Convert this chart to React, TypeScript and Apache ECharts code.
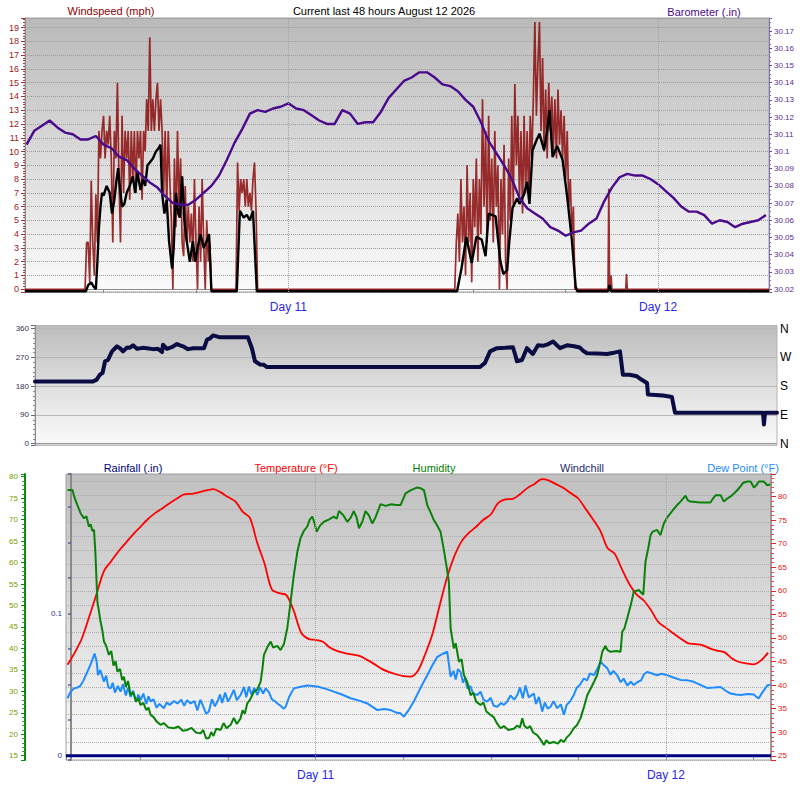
import React, { useEffect, useRef } from "react";
import * as echarts from "echarts";

// ---------- time axis (hours since Aug 10 06:00) ----------
const TIME_MIN = 0.9;
const TIME_MAX = 49.2;
const DAY_MARKS = [18, 42];
const DAY_NAMES = ["Day 11", "Day 12"];
const STEP_START = 1;
const STEP = 0.5;

// ---------- barometer (.in), every half hour from hour 1 ----------
const BAROMETER = [
  30.104, 30.112, 30.115, 30.118, 30.114, 30.111, 30.110, 30.107, 30.107, 30.109,
  30.104, 30.102, 30.097, 30.095, 30.090, 30.086, 30.082, 30.079, 30.074, 30.070,
  30.069, 30.069, 30.072, 30.076, 30.080, 30.086, 30.095, 30.105, 30.113, 30.122,
  30.124, 30.123, 30.125, 30.126, 30.128, 30.125, 30.124, 30.121, 30.118, 30.116,
  30.116, 30.124, 30.122, 30.116, 30.117, 30.117, 30.123, 30.131, 30.136, 30.141,
  30.143, 30.146, 30.146, 30.143, 30.139, 30.138, 30.135, 30.130, 30.126, 30.117,
  30.106, 30.099, 30.092, 30.084, 30.073, 30.067, 30.064, 30.061, 30.056, 30.054,
  30.051, 30.053, 30.054, 30.058, 30.061, 30.071, 30.079, 30.085, 30.087, 30.086,
  30.086, 30.084, 30.081, 30.077, 30.073, 30.068, 30.065, 30.065, 30.063, 30.058,
  30.060, 30.059, 30.056, 30.058, 30.059, 30.060, 30.063,
];

// ---------- temperature (°F), every half hour from hour 1 ----------
const TEMPERATURE = [
  44.3, 46.9, 50.0, 54.6, 59.4, 64.2, 66.3, 68.4, 70.2, 72.0,
  73.6, 75.2, 76.5, 77.5, 78.6, 79.6, 80.5, 80.6, 80.9, 81.3,
  81.6, 80.9, 79.9, 79.0, 76.8, 75.5, 70.2, 65.8, 60.3, 59.5,
  59.1, 55.8, 51.2, 49.8, 49.6, 49.2, 47.9, 47.2, 46.8, 46.5,
  46.2, 45.4, 44.5, 43.5, 42.8, 42.3, 41.9, 41.8, 43.0, 46.5,
  50.8, 56.9, 62.8, 67.3, 70.5, 72.3, 73.6, 75.1, 76.2, 78.6,
  79.4, 79.5, 80.5, 81.8, 82.7, 83.7, 83.4, 82.6, 81.8, 80.7,
  79.6, 77.4, 75.2, 72.8, 69.1, 67.8, 64.5, 61.4, 59.2, 57.9,
  55.8, 53.3, 52.2, 51.0, 49.9, 48.9, 48.7, 48.5, 47.8, 47.3,
  47.0, 45.7, 44.9, 44.6, 44.4, 45.2, 46.9,
];

// ---------- wind gust (mph) [hour, value] ----------
const WIND_GUST = [
  [0.9, 0], [4.8, 0], [4.9, 3.4], [5.0, 3.4], [5.1, 0.5], [5.2, 7.9], [5.3, 3.4], [5.4, 1.0], [5.5, 6.9], [5.6, 3.4],
  [5.7, 11.5], [5.8, 9.5], [5.9, 11.5], [6.0, 12.6], [6.1, 9.5], [6.2, 11.5], [6.3, 10.5], [6.4, 12.6], [6.5, 9.5], [6.6, 3.4],
  [6.7, 11.5], [6.8, 9.5], [6.9, 15.0], [7.0, 8.0], [7.1, 3.4], [7.2, 12.6], [7.3, 7.0], [7.4, 11.5], [7.5, 9.5], [7.6, 11.5],
  [7.7, 6.5], [7.8, 11.5], [7.9, 8.0], [8.0, 11.5], [8.1, 7.0], [8.2, 11.5], [8.3, 9.5], [8.4, 11.5], [8.5, 6.5], [8.6, 11.5],
  [8.7, 10.0], [8.8, 13.8], [8.9, 11.5], [9.0, 18.3], [9.1, 11.5], [9.2, 13.8], [9.3, 11.5], [9.4, 13.8], [9.5, 15.0], [9.6, 11.5],
  [9.7, 13.8], [9.8, 11.5], [9.9, 7.0], [10.0, 11.5], [10.1, 6.0], [10.2, 11.5], [10.3, 8.0], [10.4, 5.0], [10.5, 0.0], [10.6, 9.5],
  [10.7, 4.5], [10.8, 11.5], [10.9, 6.0], [11.0, 9.5], [11.1, 3.4], [11.2, 2.4], [11.3, 7.5], [11.4, 3.4], [11.5, 6.0], [11.6, 3.4],
  [11.7, 5.5], [11.8, 2.0], [11.9, 8.0], [12.0, 3.4], [12.1, 0.0], [12.2, 6.0], [12.3, 2.0], [12.4, 8.0], [12.5, 3.4], [12.6, 0.0],
  [12.7, 5.0], [12.8, 2.0], [12.9, 3.4], [13.0, 0],
  [14.6, 0], [14.7, 9.2], [14.8, 5.7], [14.9, 8.0], [15.0, 7.0], [15.1, 8.0], [15.2, 6.0], [15.3, 8.0], [15.4, 6.0], [15.5, 7.0],
  [15.6, 5.7], [15.7, 8.0], [15.8, 9.2], [15.9, 5.7], [16.0, 0],
  [28.8, 0], [28.9, 3.4], [29.0, 5.5], [29.1, 2.0], [29.2, 8.0], [29.3, 3.4], [29.4, 6.0], [29.5, 1.0], [29.6, 9.0], [29.7, 3.4],
  [29.8, 7.0], [29.9, 0.5], [30.0, 8.0], [30.1, 4.5], [30.2, 9.5], [30.3, 2.0], [30.4, 8.0], [30.5, 4.0], [30.6, 13.8], [30.7, 6.0],
  [30.8, 11.5], [30.9, 3.4], [31.0, 12.6], [31.1, 5.0], [31.2, 9.5], [31.3, 3.4], [31.4, 11.5], [31.5, 6.0], [31.6, 9.0], [31.7, 0.0],
  [31.8, 8.0], [31.9, 4.0], [32.0, 10.5], [32.1, 2.0], [32.2, 0.0], [32.3, 9.5], [32.4, 5.0], [32.5, 12.6], [32.6, 6.0], [32.7, 14.9],
  [32.8, 9.0], [32.9, 12.6], [33.0, 6.5], [33.1, 11.5], [33.2, 5.5], [33.3, 12.6], [33.4, 7.0], [33.5, 11.5], [33.6, 6.5], [33.7, 12.6],
  [33.8, 9.5], [33.9, 13.8], [34.0, 19.4], [34.1, 12.6], [34.2, 16.5], [34.3, 19.4], [34.4, 11.5], [34.5, 16.8], [34.6, 10.0], [34.7, 14.5],
  [34.8, 9.5], [34.9, 15.0], [35.0, 11.5], [35.1, 14.0], [35.2, 10.0], [35.3, 13.8], [35.4, 9.5], [35.5, 14.5], [35.6, 10.5], [35.7, 13.0],
  [35.8, 9.5], [35.9, 12.6], [36.0, 8.0], [36.1, 11.5], [36.2, 6.0], [36.3, 8.0], [36.4, 4.0], [36.5, 6.0], [36.6, 0],
  [38.75, 0], [38.8, 7.3], [38.85, 0], [38.95, 1.0], [39.0, 0], [39.9, 0], [39.95, 1.1], [40.0, 0], [49.2, 0],
];

// ---------- average wind (mph) [hour, value] ----------
const WIND_AVG = [
  [0.9, -0.15], [4.85, -0.15], [5.0, 0.3], [5.2, 0.5], [5.35, 0.2], [5.5, 0.0], [5.6, 2.0], [5.7, 4.5], [5.8, 6.0], [5.9, 7.0],
  [6.0, 6.8], [6.2, 7.5], [6.4, 7.0], [6.55, 5.5], [6.7, 6.5], [6.85, 8.0], [6.95, 8.8], [7.05, 7.5], [7.2, 6.0], [7.35, 6.2],
  [7.5, 7.0], [7.7, 7.5], [7.9, 8.2], [8.05, 7.0], [8.2, 8.5], [8.4, 7.2], [8.55, 8.0], [8.7, 7.5], [8.85, 9.0], [9.0, 9.2],
  [9.2, 9.5], [9.4, 10.0], [9.55, 10.2], [9.7, 10.5], [9.8, 7.0], [9.95, 5.5], [10.1, 6.5], [10.25, 3.5], [10.45, 1.5], [10.55, 3.0],
  [10.7, 7.0], [10.85, 5.5], [10.95, 5.2], [11.1, 8.2], [11.25, 5.0], [11.4, 3.5], [11.6, 2.0], [11.8, 3.5], [11.95, 2.0], [12.1, 3.0],
  [12.3, 4.0], [12.5, 3.0], [12.7, 3.5], [12.85, 4.0], [13.0, -0.15],
  [14.65, -0.15], [14.85, 5.7], [15.1, 5.2], [15.3, 5.4], [15.5, 5.0], [15.7, 5.7], [15.95, -0.15],
  [28.95, -0.15], [29.25, 1.6], [29.55, 3.8], [29.9, 1.9], [30.2, 3.8], [30.55, 3.6], [30.8, 2.4], [31.0, 5.5], [31.45, 5.3], [31.75, 2.1],
  [31.95, 1.1], [32.2, 1.4], [32.35, 3.6], [32.55, 5.9], [32.85, 6.6], [33.0, 6.2], [33.3, 6.9], [33.5, 7.8], [33.65, 6.2], [33.85, 10.1],
  [34.1, 10.8], [34.3, 11.3], [34.6, 10.1], [34.8, 11.5], [34.95, 13.0], [35.15, 9.6], [35.45, 10.4], [35.8, 9.4], [36.1, 6.7], [36.4, 3.6],
  [36.65, 0.2], [36.75, -0.15], [38.75, -0.15], [38.85, 0.3], [38.95, -0.15], [49.2, -0.15],
];

// ---------- wind direction (degrees) [hour, value] ----------
const WIND_DIR = [
  [0.9, 195], [4.68, 195], [4.9, 200], [5.13, 216], [5.3, 222], [5.46, 258], [5.65, 262], [5.91, 289], [6.24, 305], [6.45, 298],
  [6.63, 289], [6.89, 301], [7.05, 300], [7.28, 308], [7.54, 297], [7.9, 300], [8.19, 299], [8.58, 296], [8.9, 297], [9.17, 287],
  [9.23, 310], [9.49, 297], [9.8, 302], [10.14, 312], [10.35, 308], [10.53, 305], [10.86, 296], [11.2, 299], [11.9, 299], [12.1, 326],
  [12.3, 330], [12.49, 339], [12.94, 333], [14.76, 333], [15.02, 299], [15.22, 258], [15.55, 248], [15.8, 247], [16.0, 240], [29.87, 240],
  [30.19, 253], [30.52, 289], [30.97, 299], [31.5, 300], [32.01, 302], [32.15, 280], [32.27, 258], [32.6, 262], [32.92, 299], [33.31, 281],
  [33.64, 308], [34.0, 307], [34.23, 310], [34.62, 320], [35.07, 299], [35.53, 308], [36.0, 305], [36.37, 301], [36.6, 290], [36.83, 283],
  [37.5, 282], [38.13, 281], [38.6, 285], [38.98, 289], [39.17, 216], [39.6, 216], [40.08, 211], [40.4, 200], [40.74, 190], [40.8, 154],
  [41.78, 151], [42.36, 146], [42.56, 97], [48.29, 97], [48.35, 60], [48.42, 97], [49.2, 97],
];

// ---------- humidity (%) [hour, value] ----------
const HUMIDITY = [
  [1.0, 76.9], [1.34, 76.9], [1.5, 75.0], [1.68, 73.4], [1.9, 71.5], [2.13, 70.3], [2.3, 70.8], [2.47, 68.4], [2.6, 68.9], [2.7, 67.4],
  [2.82, 67.6], [2.92, 61.8], [3.05, 50.9], [3.15, 48.8], [3.27, 46.2], [3.4, 44.0], [3.5, 41.6], [3.65, 40.6], [3.84, 38.5], [4.0, 39.4],
  [4.15, 36.0], [4.3, 37.0], [4.42, 34.6], [4.6, 35.2], [4.75, 32.6], [4.87, 33.4], [5.0, 31.0], [5.15, 32.4], [5.33, 29.1], [5.5, 29.8],
  [5.7, 27.6], [5.85, 28.4], [6.01, 26.8], [6.2, 27.3], [6.4, 25.6], [6.55, 26.2], [6.7, 24.5], [6.9, 24.0], [7.1, 23.0], [7.38, 22.2],
  [7.6, 22.6], [7.9, 21.6], [8.29, 21.4], [8.6, 21.8], [8.9, 20.8], [9.21, 21.0], [9.5, 21.5], [9.8, 20.4], [10.12, 20.2], [10.3, 21.0],
  [10.5, 19.0], [10.69, 19.1], [10.85, 20.5], [11.0, 19.6], [11.2, 21.3], [11.49, 21.0], [11.7, 22.6], [11.9, 21.4], [12.18, 22.2], [12.4, 23.8],
  [12.6, 22.4], [12.86, 23.7], [13.0, 25.6], [13.15, 24.8], [13.32, 27.2], [13.5, 28.0], [13.77, 29.9], [14.0, 30.4], [14.23, 32.2], [14.35, 35.0],
  [14.46, 38.5], [14.7, 40.3], [14.92, 41.6], [15.1, 40.2], [15.38, 40.6], [15.6, 39.6], [15.83, 41.0], [16.06, 44.7], [16.29, 50.9], [16.51, 57.1],
  [16.75, 62.5], [16.97, 65.7], [17.2, 67.4], [17.43, 68.4], [17.6, 70.0], [17.77, 70.7], [17.9, 69.5], [18.07, 67.2], [18.3, 68.6], [18.57, 69.5],
  [18.9, 70.0], [19.25, 70.7], [19.45, 70.2], [19.6, 72.0], [19.9, 71.0], [20.17, 69.5], [20.4, 70.4], [20.62, 72.0], [20.8, 70.6], [20.97, 68.0],
  [21.2, 69.5], [21.42, 72.0], [21.65, 71.0], [21.88, 69.1], [22.1, 70.5], [22.45, 73.6], [22.8, 73.2], [23.2, 73.6], [23.5, 73.4], [23.82, 73.4],
  [24.16, 76.1], [24.5, 76.8], [24.97, 77.5], [25.2, 77.3], [25.42, 76.9], [25.65, 73.4], [25.9, 71.5], [26.1, 69.9], [26.3, 68.8], [26.56, 67.2],
  [26.79, 62.9], [27.0, 58.5], [27.13, 55.5], [27.25, 44.7], [27.47, 40.0], [27.6, 41.2], [27.82, 36.9], [28.0, 37.5], [28.16, 33.8], [28.4, 32.0],
  [28.62, 29.1], [28.8, 29.7], [29.0, 27.6], [29.3, 26.8], [29.5, 27.4], [29.7, 25.3], [29.99, 24.5], [30.2, 24.0], [30.45, 22.4], [30.67, 21.4],
  [30.9, 21.9], [31.2, 21.0], [31.58, 21.3], [31.8, 22.0], [32.0, 21.6], [32.16, 23.7], [32.3, 22.0], [32.5, 21.4], [32.7, 21.9], [32.9, 20.4],
  [33.18, 19.8], [33.4, 18.8], [33.64, 17.5], [33.8, 18.6], [34.0, 17.9], [34.32, 18.2], [34.6, 17.8], [34.8, 18.7], [35.01, 18.2], [35.2, 19.2],
  [35.45, 20.1], [35.69, 21.4], [35.9, 22.1], [36.15, 23.7], [36.4, 26.5], [36.61, 29.1], [36.9, 31.0], [37.1, 32.4], [37.29, 33.8], [37.45, 36.0],
  [37.64, 39.2], [37.86, 40.6], [38.0, 39.6], [38.21, 39.2], [38.6, 39.4], [38.89, 39.2], [39.01, 43.9], [39.15, 44.6], [39.35, 47.0], [39.6, 50.2],
  [39.8, 53.2], [40.14, 53.6], [40.45, 52.5], [40.6, 60.2], [40.8, 63.5], [40.95, 66.4], [41.1, 67.2], [41.4, 67.6], [41.63, 66.4], [41.86, 69.1],
  [42.1, 70.6], [42.32, 71.5], [42.5, 72.3], [42.77, 73.4], [43.0, 74.2], [43.34, 75.6], [43.5, 74.5], [43.68, 74.2], [44.37, 74.0], [45.05, 74.0],
  [45.2, 74.8], [45.41, 75.7], [45.75, 75.7], [45.97, 74.2], [46.2, 74.9], [46.43, 75.4], [46.7, 76.2], [46.9, 76.9], [47.12, 77.8], [47.3, 78.6],
  [47.58, 78.9], [47.8, 78.9], [48.03, 77.5], [48.2, 78.0], [48.36, 78.9], [48.7, 78.9], [48.94, 78.0], [49.15, 78.2],
];

// ---------- dew point (°F) [hour, value] ----------
const DEW_POINT = [
  [1.0, 37.2], [1.2, 38.5], [1.45, 39.3], [1.7, 39.5], [1.9, 39.9], [2.1, 41.0], [2.36, 42.8], [2.6, 44.5], [2.86, 46.7], [3.0, 45.0],
  [3.09, 42.1], [3.25, 43.2], [3.5, 40.7], [3.65, 42.0], [3.8, 39.5], [3.96, 39.3], [4.1, 40.5], [4.25, 38.4], [4.45, 39.8], [4.64, 38.6],
  [4.8, 40.2], [5.0, 37.8], [5.15, 39.5], [5.33, 37.5], [5.5, 38.8], [5.7, 36.4], [5.85, 38.0], [6.01, 36.8], [6.2, 38.2], [6.4, 36.0],
  [6.55, 37.6], [6.7, 36.5], [6.9, 37.0], [7.1, 35.2], [7.3, 36.0], [7.61, 35.1], [7.8, 36.3], [8.0, 35.8], [8.3, 36.6], [8.53, 36.1],
  [8.8, 36.9], [9.0, 35.6], [9.2, 36.8], [9.44, 36.1], [9.7, 36.6], [9.9, 34.6], [10.1, 36.9], [10.35, 35.1], [10.5, 33.9], [10.69, 34.4],
  [10.9, 37.0], [11.1, 35.5], [11.27, 36.5], [11.45, 38.0], [11.6, 36.2], [11.8, 38.4], [12.0, 36.5], [12.18, 37.5], [12.4, 39.0], [12.6, 36.8],
  [12.86, 37.9], [13.1, 39.6], [13.25, 37.4], [13.43, 39.7], [13.6, 38.0], [13.8, 39.4], [14.01, 37.9], [14.2, 39.5], [14.4, 38.2], [14.58, 39.3],
  [14.8, 38.5], [15.0, 37.0], [15.2, 36.6], [15.38, 36.1], [15.6, 35.6], [15.8, 35.0], [15.95, 35.4], [16.2, 37.6], [16.51, 39.3], [16.9, 39.6],
  [17.43, 39.9], [17.8, 39.8], [18.12, 39.7], [18.7, 39.2], [19.25, 38.6], [19.8, 38.0], [20.4, 37.2], [21.0, 36.7], [21.54, 36.1], [22.23, 34.7],
  [22.7, 34.9], [23.14, 34.7], [23.5, 34.2], [23.82, 34.0], [24.05, 33.3], [24.4, 34.8], [24.73, 36.5], [25.2, 39.5], [25.65, 42.1], [26.0, 44.2],
  [26.34, 46.0], [26.7, 46.6], [27.02, 47.1], [27.15, 44.0], [27.25, 41.8], [27.45, 43.0], [27.6, 41.2], [27.75, 43.4], [27.93, 42.8], [28.1, 40.5],
  [28.25, 41.6], [28.39, 39.3], [28.6, 39.8], [28.8, 38.2], [29.08, 37.9], [29.3, 38.6], [29.5, 36.9], [29.76, 36.5], [30.0, 37.3], [30.2, 35.6],
  [30.45, 35.4], [30.7, 36.2], [30.9, 35.8], [31.13, 36.5], [31.35, 37.8], [31.6, 36.9], [31.82, 37.9], [32.0, 39.5], [32.2, 37.2], [32.38, 39.9],
  [32.6, 37.4], [32.95, 38.2], [33.1, 36.0], [33.3, 37.5], [33.53, 34.4], [33.7, 36.3], [33.9, 35.0], [34.1, 35.4], [34.3, 36.6], [34.55, 35.1],
  [34.8, 35.9], [35.01, 33.7], [35.2, 35.8], [35.45, 36.6], [35.69, 37.9], [35.9, 39.5], [36.1, 40.0], [36.38, 41.4], [36.6, 41.0], [36.8, 42.5],
  [37.06, 42.1], [37.3, 43.4], [37.52, 45.0], [37.75, 44.2], [37.98, 43.6], [38.2, 42.2], [38.4, 43.0], [38.66, 42.1], [38.9, 40.6], [39.1, 41.4],
  [39.35, 39.9], [39.6, 40.7], [39.8, 40.0], [40.03, 40.6], [40.3, 41.0], [40.5, 42.3], [40.72, 42.8], [41.0, 42.5], [41.4, 42.1], [41.7, 42.4],
  [42.08, 42.1], [42.5, 41.6], [43.0, 41.1], [43.5, 41.0], [43.91, 40.7], [44.4, 40.0], [44.82, 39.4], [45.3, 39.5], [45.75, 39.6], [46.1, 38.8],
  [46.43, 38.2], [46.8, 38.0], [47.12, 37.9], [47.6, 38.1], [48.03, 38.0], [48.2, 37.5], [48.36, 37.2], [48.6, 38.4], [48.94, 39.9], [49.15, 40.1],
];

// ---------- rainfall (.in) ----------
const RAINFALL = [[0.9, 0], [49.2, 0]];

const COMPASS: Record<number, string> = { 0: "N", 90: "E", 180: "S", 270: "W", 360: "N" };

const FONT = '"Liberation Sans", Arial, sans-serif';

const isStep = (v: number, s: number) => Math.abs(v / s - Math.round(v / s)) < 1e-6;
const fmtStep = (s: number) => (v: number) => (isStep(v, s) ? String(+v.toFixed(2)) : "");

export default function App() {
  const ref = useRef<HTMLDivElement>(null);

  useEffect(() => {
    document.body.style.margin = "0";
    const el = ref.current;
    if (!el) return;
    const chart = echarts.init(el, null, { renderer: "svg" });

    const grad = (a: string, b: string, c: string) =>
      new echarts.graphic.LinearGradient(0, 0, 0, 1, [
        { offset: 0, color: a },
        { offset: 0.5, color: b },
        { offset: 1, color: c },
      ]);

    const dayFormatter = (v: number) => {
      const i = DAY_MARKS.findIndex((d) => Math.abs(d - v) < 1e-6);
      return i >= 0 ? DAY_NAMES[i] : "";
    };

    const timeAxis = (gridIndex: number, labels: boolean) => ({
      type: "value",
      gridIndex,
      min: TIME_MIN,
      max: TIME_MAX,
      splitNumber: 8,
      minInterval: 6,
      maxInterval: 6,
      axisLine: { show: true, lineStyle: { color: "#8c8c8c", width: 1, type: labels ? "solid" : "dotted" } },
      axisTick: { show: labels, length: 4, lineStyle: { color: "#8c8c8c" } },
      axisLabel: { show: labels, formatter: dayFormatter, color: "#2828ee", fontSize: 12, margin: 9, fontFamily: FONT },
      splitLine: { show: false },
    });

    const dayLines = {
      silent: true,
      symbol: ["none", "none"],
      label: { show: false },
      lineStyle: { color: "#a4a4a4", type: "dotted", width: 1 },
      data: DAY_MARKS.map((d) => ({ xAxis: d })),
      animation: false,
    };

    const stepped = (arr: number[]) => arr.map((v, i) => [STEP_START + i * STEP, v]);

    const text = (t: string, x: number, y: number, fill: string, size = 11) => ({
      type: "text",
      x,
      y,
      silent: true,
      style: { text: t, fill, font: `${size}px ${FONT}`, align: "center", verticalAlign: "middle", textAlign: "center", textVerticalAlign: "middle" },
    });

    const option: any = {
      animation: false,
      backgroundColor: "#ffffff",
      textStyle: { fontFamily: FONT },
      grid: [
        { left: 25, top: 18, width: 744, height: 274, show: true, backgroundColor: grad("#bababa", "#dadada", "#fbfbfb"), borderColor: "#a0a0a0", borderWidth: 1, containLabel: false, outerBoundsMode: "none" },
        { left: 35, top: 325.5, width: 742, height: 119.5, show: true, backgroundColor: grad("#bcbcbc", "#dedede", "#fbfbfb"), borderColor: "#b4b4b4", borderWidth: 1, containLabel: false, outerBoundsMode: "none" },
        { left: 66, top: 474, width: 705, height: 286, show: true, backgroundColor: grad("#c0c0c0", "#dcdcdc", "#fcfcfc"), borderColor: "#a0a0a0", borderWidth: 1, containLabel: false, outerBoundsMode: "none" },
      ],
      xAxis: [timeAxis(0, true), timeAxis(1, false), timeAxis(2, true)],
      yAxis: [
        // 0 windspeed
        {
          type: "value", gridIndex: 0, position: "left", min: -0.2, max: 19.7, splitNumber: 20, minInterval: 1, maxInterval: 1,
          axisLine: { show: true, lineStyle: { color: "#8c8c8c", width: 1 } },
          axisTick: { show: true, length: 4, lineStyle: { color: "#a03030" } },
          minorTick: { show: true, splitNumber: 5, length: 2, lineStyle: { color: "#b04040" } },
          axisLabel: { formatter: fmtStep(1), color: "#9b2020", fontSize: 9, margin: 6, fontFamily: FONT },
          splitLine: { show: true, lineStyle: { color: "#9c9c9c", type: "dotted", width: 1 } },
        },
        // 1 barometer
        {
          type: "value", gridIndex: 0, position: "right", min: 30.0183, max: 30.1776, splitNumber: 16, minInterval: 0.01, maxInterval: 0.01,
          axisLine: { show: true, lineStyle: { color: "#8a72bb", width: 1 } },
          axisTick: { show: true, length: 3, lineStyle: { color: "#6a4aa8" } },
          minorTick: { show: true, splitNumber: 4, length: 2, lineStyle: { color: "#8a72bb" } },
          axisLabel: { formatter: fmtStep(0.01), color: "#5a2d91", fontSize: 8, margin: 5, fontFamily: FONT },
          splitLine: { show: false },
        },
        // 2 direction degrees
        {
          type: "value", gridIndex: 1, position: "left", min: -4, max: 370, splitNumber: 4, minInterval: 90, maxInterval: 90,
          axisLine: { show: true, lineStyle: { color: "#8c8c8c", width: 1 } },
          axisTick: { show: true, length: 4, lineStyle: { color: "#666688" } },
          minorTick: { show: true, splitNumber: 6, length: 2, lineStyle: { color: "#8888a0" } },
          axisLabel: { formatter: fmtStep(90), color: "#333355", fontSize: 8, margin: 6, fontFamily: FONT },
          splitLine: { show: true, lineStyle: { color: "#b8b8b8", width: 1 } },
        },
        // 3 direction compass letters
        {
          type: "value", gridIndex: 1, position: "right", min: -4, max: 370, splitNumber: 4, minInterval: 90, maxInterval: 90,
          axisLine: { show: false }, axisTick: { show: false }, splitLine: { show: false },
          axisLabel: { formatter: (v: number) => (isStep(v, 90) ? COMPASS[Math.round(v)] || "" : ""), color: "#000000", fontSize: 12, margin: 3, fontFamily: FONT },
        },
        // 4 humidity
        {
          type: "value", gridIndex: 2, position: "left", offset: 41, min: 14, max: 80.63, splitNumber: 13, minInterval: 5, maxInterval: 5,
          axisLine: { show: true, lineStyle: { color: "#0a8a0a", width: 2 } },
          axisTick: { show: true, length: 4, lineStyle: { color: "#0a8a0a" } },
          minorTick: { show: true, splitNumber: 5, length: 3, lineStyle: { color: "#3a9a3a" } },
          axisLabel: { formatter: fmtStep(5), color: "#7a9c00", fontSize: 8, margin: 7, fontFamily: FONT },
          splitLine: { show: false },
        },
        // 5 rainfall
        {
          type: "value", gridIndex: 2, position: "left", offset: -5, min: -0.003, max: 0.198, splitNumber: 8, minInterval: 0.025, maxInterval: 0.025,
          axisLine: { show: true, lineStyle: { color: "#8a8a8a", width: 2 } },
          axisTick: { show: true, length: 3, lineStyle: { color: "#5a5aa0", width: 1.5 } },
          axisLabel: {
            formatter: (v: number) => (Math.abs(v) < 1e-9 ? "0" : Math.abs(v - 0.1) < 1e-9 ? "0.1" : ""),
            color: "#333399", fontSize: 8, margin: 9, fontFamily: FONT,
          },
          splitLine: { show: false },
        },
        // 6 temperature / dew point
        {
          type: "value", gridIndex: 2, position: "right", min: 24.1, max: 84.8, splitNumber: 12, minInterval: 5, maxInterval: 5,
          axisLine: { show: true, lineStyle: { color: "#9a9a9a", width: 2 } },
          axisTick: { show: true, length: 5, lineStyle: { color: "#ee2222" } },
          minorTick: { show: true, splitNumber: 5, length: 3, lineStyle: { color: "#ee4444" } },
          axisLabel: { formatter: fmtStep(5), color: "#ee1111", fontSize: 8, margin: 7, fontFamily: FONT },
          splitLine: { show: false },
        },
        // 7 background grid lines of the bottom panel
        {
          type: "value", gridIndex: 2, position: "left", min: -0.3, max: 20.55, splitNumber: 21, minInterval: 1, maxInterval: 1,
          axisLine: { show: false }, axisTick: { show: false }, axisLabel: { show: false },
          splitLine: { show: true, lineStyle: { color: "#acacac", type: "dotted", width: 1 } },
        },
      ],
      series: [
        {
          type: "line", name: "Wind gust", xAxisIndex: 0, yAxisIndex: 0, data: WIND_GUST, symbol: "none",
          lineStyle: { color: "#8b0a0a", width: 1.7, opacity: 0.85 }, itemStyle: { color: "#8b0a0a" }, markLine: dayLines,
        },
        {
          type: "line", name: "Wind avg", xAxisIndex: 0, yAxisIndex: 0, data: WIND_AVG, symbol: "none",
          lineStyle: { color: "#000000", width: 2.4 }, itemStyle: { color: "#000000" },
        },
        {
          type: "line", name: "Barometer", xAxisIndex: 0, yAxisIndex: 1, data: stepped(BAROMETER), symbol: "none",
          lineStyle: { color: "#4b0a8c", width: 2.4 }, itemStyle: { color: "#4b0a8c" },
        },
        {
          type: "line", name: "Direction", xAxisIndex: 1, yAxisIndex: 2, data: WIND_DIR, symbol: "none",
          lineStyle: { color: "#0c0c44", width: 4, cap: "round", join: "round" }, itemStyle: { color: "#0c0c44" },
        },
        {
          type: "line", name: "Dew Point", xAxisIndex: 2, yAxisIndex: 6, data: DEW_POINT, symbol: "none",
          lineStyle: { color: "#1e8cff", width: 2 }, itemStyle: { color: "#1e8cff" },
        },
        {
          type: "line", name: "Temperature", xAxisIndex: 2, yAxisIndex: 6, data: stepped(TEMPERATURE), symbol: "none", smooth: 0.3,
          lineStyle: { color: "#ff0000", width: 1.8 }, itemStyle: { color: "#ff0000" }, markLine: dayLines,
        },
        {
          type: "line", name: "Humidity", xAxisIndex: 2, yAxisIndex: 4, data: HUMIDITY, symbol: "none",
          lineStyle: { color: "#0a820a", width: 2 }, itemStyle: { color: "#0a820a" },
        },
        {
          type: "line", name: "Rainfall", xAxisIndex: 2, yAxisIndex: 5, data: RAINFALL, symbol: "none",
          lineStyle: { color: "#000080", width: 3 }, itemStyle: { color: "#000080" },
        },
      ],
      graphic: [
        text("Windspeed (mph)", 111, 11, "#8b0000"),
        text("Current last 48 hours August 12 2026", 384, 11, "#000000"),
        text("Barometer (.in)", 704, 12, "#4b0a8c"),
        text("Rainfall (.in)", 133, 468, "#000080"),
        text("Temperature (°F)", 296, 468, "#ff0000"),
        text("Humidity", 434, 468, "#008000"),
        text("Windchill", 582, 468, "#1a2a6a"),
        text("Dew Point (°F)", 743, 468, "#1e8cff"),
      ],
    };

    chart.setOption(option);
    return () => chart.dispose();
  }, []);

  return <div ref={ref} style={{ width: 800, height: 799 }} />;
}
